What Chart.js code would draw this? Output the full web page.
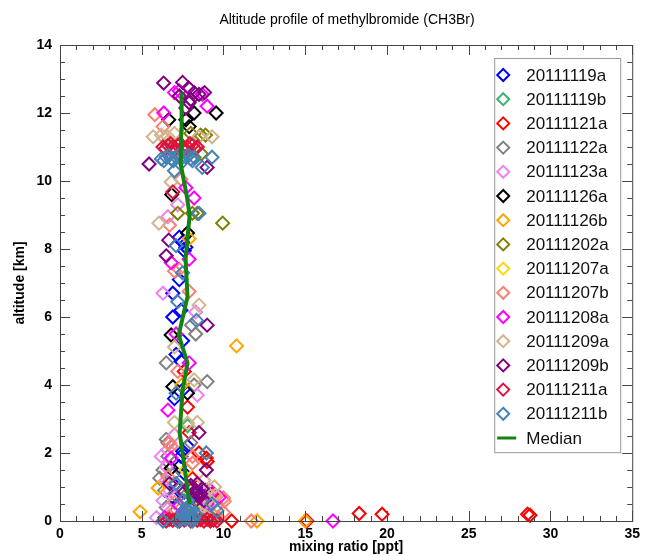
<head>
  <style>
    html,
    body {
      margin: 0;
      background: #fff;
      overflow: hidden;
    }
  </style>
</head>
<body>
  <canvas id="chart1" width="645" height="556"></canvas>
</body>
<script src="https://cdn.jsdelivr.net/npm/chart.js@4"></script>
<script>
  // each point: [mixing ratio (ppt), altitude (km)]
  const f20111119a = [[7.3, 8.35], [7.5, 8.2], [7.7, 8.05], [7.6, 7.95], [7.3, 7.1], [6.9, 6.7], [7.4, 6.2], [6.9, 6.0], [7.5, 5.3], [7.1, 4.9], [7.4, 4.7], [7.6, 3.9], [7.0, 3.6], [7.8, 2.2], [7.5, 2.05], [7.4, 1.9], [7.3, 1.6], [7.6, 1.4], [8.9, 0.9], [8.4, 0.8], [7.2, 0.5], [8.6, 0.45], [7.6, 0.3], [7.9, 0.15], [7.0, 1.05], [6.9, 0.7]]
  const f20111119b = [[7.8, 2.8], [7.9, 1.0], [7.6, 0.6], [7.7, 0.25]]
  const f20111121a = [[7.6, 4.4], [7.8, 3.35], [7.9, 2.6], [8.5, 2.0], [8.95, 1.85], [9.0, 1.75], [8.1, 1.25], [8.0, 0.9], [8.6, 0.55], [8.9, 0.3], [9.2, 0.05], [10.5, 0.0], [15.1, 0.0], [18.3, 0.22], [19.7, 0.2], [28.6, 0.2], [28.75, 0.17], [9.3, 0.8]]
  const f20111122a = [[8.3, 5.5], [8.05, 5.76], [6.5, 4.65], [9.0, 4.1], [8.2, 4.0], [6.5, 2.4], [8.0, 2.3], [6.6, 2.3], [6.6, 1.9], [6.3, 1.5], [6.1, 1.26], [6.4, 0.9], [7.1, 0.75], [8.6, 0.6], [6.5, 0.4], [6.9, 1.35], [7.3, 0.95]]
  const f20111123a = [[7.2, 9.3], [6.6, 8.95], [6.3, 6.7], [8.3, 6.15], [8.4, 3.7], [7.0, 2.53], [6.6, 2.1], [6.2, 1.9], [6.5, 1.6], [6.7, 0.9], [6.3, 0.6], [8.7, 0.35], [7.4, 0.2], [5.9, 0.1], [6.4, 0.05], [6.8, 0.3], [6.5, 1.2]]
  const f20111126a = [[8.2, 12.0], [9.55, 12.0], [6.65, 11.8], [7.7, 11.8], [7.9, 11.6], [6.83, 9.6], [7.8, 8.47], [6.8, 5.47], [6.9, 3.95], [7.8, 3.76], [6.8, 1.55]]
  const f20111126b = [[7.9, 8.3], [10.8, 5.15], [7.45, 4.0], [6.0, 0.97], [4.9, 0.27], [8.7, 0.2], [12.05, 0.0], [15.0, 0.0]]
  const f20111202a = [[8.0, 11.4], [8.6, 11.35], [8.9, 11.35], [8.65, 10.8], [7.2, 9.05], [8.1, 9.05], [8.4, 9.05], [9.95, 8.76], [9.1, 0.1]]
  const f20111207a = [[7.7, 1.5], [8.2, 0.4], [9.3, 0.1]]
  const f20111207b = [[5.8, 11.95], [6.3, 11.6], [7.4, 10.05], [6.7, 8.7], [7.3, 7.4], [7.0, 7.35], [7.9, 6.75], [7.2, 4.4], [6.7, 2.3], [6.8, 2.2], [8.1, 1.9], [8.1, 1.7], [6.6, 1.3], [10.0, 0.68], [10.05, 0.58], [9.6, 0.45], [10.0, 0.25], [11.7, 0.0], [7.0, 0.55], [6.7, 0.15], [9.7, 0.1]]
  const f20111208a = [[7.0, 12.6], [7.3, 12.65], [8.7, 12.55], [9.0, 12.2], [6.35, 12.0], [7.7, 9.8], [8.2, 9.5], [7.9, 7.7], [6.8, 7.6], [7.1, 5.5], [7.9, 4.65], [6.6, 3.26], [6.8, 1.85], [9.2, 0.9], [9.75, 0.7], [6.4, 0.1], [16.7, 0.0], [7.3, 0.45], [9.0, 0.5]]
  const f20111209a = [[7.0, 11.4], [6.2, 11.35], [5.7, 11.3], [6.6, 11.3], [6.4, 11.25], [8.5, 11.3], [9.3, 11.3], [6.8, 9.97], [6.05, 8.76], [8.5, 6.35], [7.0, 5.12], [8.2, 4.15], [7.0, 2.9], [8.4, 2.9], [7.8, 2.88], [8.8, 1.2], [9.45, 1.0], [8.7, 0.9], [9.5, 0.76], [8.5, 0.5], [9.0, 0.3], [8.6, 0.05], [9.1, 0.65], [8.9, 0.15], [8.3, 0.25]]
  const f20111209b = [[7.5, 12.9], [6.34, 12.88], [7.87, 12.74], [8.2, 12.6], [8.84, 12.6], [8.5, 12.55], [7.3, 12.5], [8.0, 12.4], [7.9, 12.3], [7.7, 12.15], [5.45, 10.5], [9.0, 10.4], [6.65, 8.26], [6.5, 7.8], [9.0, 5.76], [8.5, 2.6], [8.95, 1.5], [6.7, 1.1], [8.4, 1.1], [8.0, 1.05], [7.9, 1.0], [8.3, 0.9], [8.7, 0.95], [7.6, 0.85], [8.6, 0.8], [8.2, 0.8], [8.1, 0.7], [8.5, 0.7], [8.8, 0.6], [8.3, 0.6]]
  const f20111211a = [[6.6, 11.05], [7.2, 11.05], [8.1, 11.05], [6.3, 11.0], [6.9, 11.0], [7.5, 11.0], [7.8, 11.0], [8.4, 11.0], [6.45, 10.95], [6.75, 11.1], [7.05, 10.95], [7.35, 11.1], [7.65, 10.95], [7.95, 11.1], [8.25, 10.95], [6.9, 9.68], [6.9, 0.02], [8.4, 0.02], [6.5, 0.0], [6.7, 0.05], [7.1, 0.04], [7.3, 0.0], [7.6, 0.03], [8.0, 0.0], [8.2, 0.05], [8.6, 0.04], [8.8, 0.0], [9.0, 0.05], [9.2, 0.0], [9.4, 0.03], [9.6, 0.0]]
  const f20111211b = [[6.5, 10.7], [7.1, 10.7], [7.7, 10.7], [8.2, 10.7], [9.3, 10.7], [6.2, 10.65], [6.8, 10.65], [7.4, 10.65], [8.0, 10.65], [6.35, 10.6], [6.65, 10.75], [6.95, 10.6], [7.25, 10.75], [7.55, 10.6], [7.85, 10.75], [8.1, 10.6], [8.7, 10.4], [7.0, 10.3], [8.5, 9.05], [7.1, 8.1], [7.5, 7.3], [7.2, 6.45], [8.35, 5.9], [7.1, 3.76], [8.95, 2.0], [7.1, 1.1], [7.5, 0.6], [7.8, 0.6], [7.7, 0.35], [7.9, 0.3], [9.6, 0.3], [8.0, 0.2], [7.8, 0.15], [7.6, 0.1], [8.2, 0.1], [6.3, 0.0], [7.2, 0.0], [8.1, 0.0], [7.7, 0.05], [7.9, 0.45], [8.1, 0.35], [7.5, 0.25], [8.3, 0.2], [7.4, 0.05], [8.0, 0.05], [9.3, 0.5]]

  const medianAlt = [0.5, 2.6, 3.85, 4.65, 5.47, 6.6, 7.7, 9.0, 9.6, 10.5, 11.5, 12.6]
  const medianVal = [7.93, 7.32, 7.5, 7.8, 7.26, 7.8, 7.68, 7.93, 7.74, 7.38, 7.42, 7.44]

  const flights = ['20111119a', '20111119b', '20111121a', '20111122a', '20111123a', '20111126a', '20111126b', '20111202a', '20111207a', '20111207b', '20111208a', '20111209a', '20111209b', '20111211a', '20111211b']
  const flightData = [f20111119a, f20111119b, f20111121a, f20111122a, f20111123a, f20111126a, f20111126b, f20111202a, f20111207a, f20111207b, f20111208a, f20111209a, f20111209b, f20111211a, f20111211b]
  const flightColors = ['#0000ff', '#3cb371', '#ff0000', '#808080', '#ee82ee', '#000000', '#ffa500', '#808000', '#ffd700', '#fa8072', '#ff00ff', '#d2b48c', '#800080', '#dc143c', '#4682b4']

  const xTicks = [0, 5, 10, 15, 20, 25, 30, 35]
  const yTicks = [0, 2, 4, 6, 8, 10, 12, 14]

  const FONT = "'Liberation Sans', Helvetica, Arial, sans-serif"

  const datasets = flights.map((name, i) => ({
    label: name,
    data: flightData[i].map(p => ({ x: p[0], y: p[1] })),
    borderColor: flightColors[i],
    backgroundColor: 'transparent',
    pointStyle: 'rectRot',
    pointRadius: 6.5,
    pointBorderWidth: 2,
    showLine: false,
    clip: false,
    order: flights.length - i + 1 // later flights drawn on top
  }))
  datasets.push({
    label: 'Median',
    data: medianAlt.map((a, i) => ({ x: medianVal[i], y: a })),
    borderColor: '#138313',
    borderWidth: 4,
    pointRadius: 0,
    showLine: true,
    order: 0
  })

  // frame, inward ticks on all sides, title and boxed legend
  const decor = {
    id: 'decor',
    afterDraw(chart) {
      const ctx = chart.ctx
      const a = chart.chartArea
      const xs = chart.scales.x
      const ys = chart.scales.y
      ctx.save()
      ctx.strokeStyle = '#444'
      ctx.lineWidth = 1
      ctx.strokeRect(a.left + 0.5, a.top + 0.5, a.right - a.left, a.bottom - a.top)
      ctx.beginPath()
      for (let v = 0; v <= 35; v++) {
        const px = Math.round(xs.getPixelForValue(v)) + 0.5
        const len = v % 5 === 0 ? 10 : 5
        ctx.moveTo(px, a.bottom); ctx.lineTo(px, a.bottom - len)
        ctx.moveTo(px, a.top); ctx.lineTo(px, a.top + len)
      }
      for (let v = 0; v <= 14; v += 0.5) {
        const py = Math.round(ys.getPixelForValue(v)) + 0.5
        const len = v % 2 === 0 ? 10 : 5
        ctx.moveTo(a.left, py); ctx.lineTo(a.left + len, py)
        ctx.moveTo(a.right, py); ctx.lineTo(a.right - len, py)
      }
      ctx.stroke()

      ctx.fillStyle = '#000'
      ctx.font = '14px ' + FONT
      ctx.textAlign = 'center'
      ctx.textBaseline = 'middle'
      ctx.fillText('Altitude profile of methylbromide (CH3Br)', 347, 20)

      // legend
      const bx = a.right - 138
      const by = a.top + 13
      const rowH = 24.2
      const sets = chart.data.datasets
      ctx.fillStyle = '#fff'
      ctx.fillRect(bx, by, 126, sets.length * rowH + 7)
      ctx.strokeStyle = '#999'
      ctx.strokeRect(bx + 0.5, by + 0.5, 126, sets.length * rowH + 7)
      ctx.font = '17px ' + FONT
      ctx.textAlign = 'left'
      sets.forEach((ds, i) => {
        const cy = by + 17 + i * rowH
        const cx = bx + 9
        ctx.strokeStyle = ds.borderColor
        if (ds.showLine) {
          ctx.lineWidth = 3
          ctx.beginPath()
          ctx.moveTo(cx - 6, cy); ctx.lineTo(cx + 13, cy)
          ctx.stroke()
        } else {
          ctx.lineWidth = 2
          ctx.beginPath()
          ctx.moveTo(cx, cy - 6); ctx.lineTo(cx + 6, cy); ctx.lineTo(cx, cy + 6); ctx.lineTo(cx - 6, cy)
          ctx.closePath()
          ctx.stroke()
        }
        ctx.fillStyle = '#111'
        ctx.fillText(ds.label, bx + 32, cy + 1)
      })
      ctx.restore()
    }
  }

  new Chart(document.getElementById('chart1'), {
    type: 'scatter',
    data: { datasets },
    plugins: [decor],
    options: {
      responsive: false,
      animation: false,
      events: [],
      layout: { padding: { top: 45, right: 12, left: 0, bottom: 0 } },
      plugins: {
        legend: { display: false },
        tooltip: { enabled: false }
      },
      scales: {
        x: {
          type: 'linear',
          min: 0,
          max: 35,
          afterBuildTicks: s => { s.ticks = xTicks.map(v => ({ value: v })) },
          afterFit: s => { s.height = 35 },
          grid: { display: false, drawTicks: false },
          border: { display: false },
          ticks: {
            color: '#000',
            padding: 5,
            maxRotation: 0,
            font: { family: FONT, size: 14, weight: 'bold' }
          },
          title: {
            display: true,
            text: 'mixing ratio [ppt]',
            color: '#000',
            padding: { top: 0, bottom: 0 },
            font: { family: FONT, size: 14, weight: 'bold' }
          }
        },
        y: {
          type: 'linear',
          min: 0,
          max: 14,
          afterBuildTicks: s => { s.ticks = yTicks.map(v => ({ value: v })) },
          afterFit: s => { s.width = 60 },
          grid: { display: false, drawTicks: false },
          border: { display: false },
          ticks: {
            color: '#000',
            padding: 8,
            font: { family: FONT, size: 14, weight: 'bold' }
          },
          title: {
            display: true,
            text: 'altitude [km]',
            color: '#000',
            padding: { top: 12, bottom: 0 },
            font: { family: FONT, size: 14, weight: 'bold' }
          }
        }
      }
    }
  })
</script>
